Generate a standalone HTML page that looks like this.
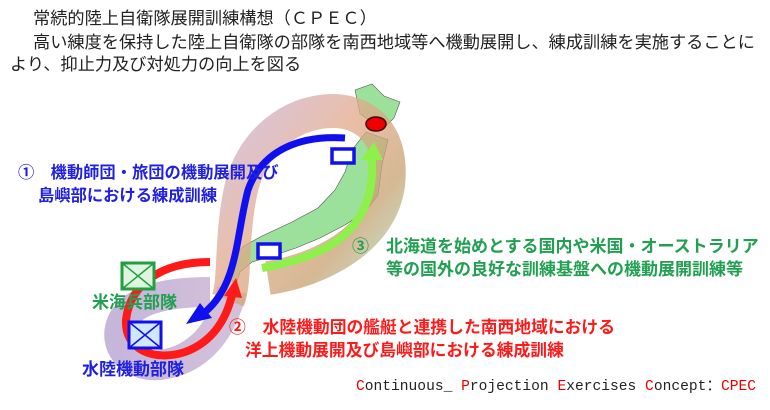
<!DOCTYPE html><html><head><meta charset="utf-8"><style>
body{margin:0;background:#fff;width:770px;height:410px;overflow:hidden}
svg{display:block}
.j{font-family:"Liberation Sans","Noto Sans CJK JP",sans-serif}
</style></head><body>
<svg width="770" height="410" viewBox="0 0 770 410" xmlns="http://www.w3.org/2000/svg">
<defs>
<linearGradient id="band" x1="0" y1="0" x2="1" y2="1">
<stop offset="0" stop-color="#c9b0d8"/><stop offset="0.4" stop-color="#e2a98a"/><stop offset="0.7" stop-color="#c8a070"/><stop offset="1" stop-color="#a8e0c0"/></linearGradient>
<linearGradient id="band2" x1="0" y1="0" x2="1" y2="0">
<stop offset="0" stop-color="#b8a4d0"/><stop offset="1" stop-color="#c8b0d0"/></linearGradient>
</defs>
<g class="j" font-size="17.2" fill="#222">
<text x="33" y="24">常続的陸上自衛隊展開訓練構想（ＣＰＥＣ）</text>
<text x="33" y="48">高い練度を保持した陸上自衛隊の部隊を南西地域等へ機動展開し、練成訓練を実施することに</text>
<text x="10" y="70">より、抑止力及び対処力の向上を図る</text>
</g>
<!-- Japan -->
<path d="M355 90 L372 84 L384 96 L400 102 L394 118 L382 130 L372 122 L360 114 Z" fill="#9be09b" stroke="#555" stroke-width="0.6"/>
<path d="M366 132 L388 140 L382 165 L378 195 L365 212 L345 225 L320 238 L296 248 L272 256 L252 262 L240 272 L236 285 L228 276 L232 258 L244 246 L262 236 L292 222 L318 208 L335 190 L345 172 L352 150 Z" fill="#9be09b" stroke="#555" stroke-width="0.6"/>
<!-- band lower-left -->
<path d="M232 290 C222 330 200 360 160 365 C130 368 112 345 122 322 C132 300 165 292 210 292" fill="none" stroke="url(#band2)" stroke-width="30" stroke-opacity="0.8"/>
<!-- band main -->
<path d="M268 278 C320 270 380 240 388 185 C394 130 362 110 330 111 C290 113 255 140 242 185 C230 235 236 280 228 300" fill="none" stroke="url(#band)" stroke-width="34" stroke-opacity="0.75" stroke-linecap="butt"/>
<!-- green arrow -->
<path d="M262 268 C320 258 368 236 372 175 L372 158" fill="none" stroke="#8ef04a" stroke-width="8"/>
<polygon points="361,160 383,160 374,142" fill="#8ef04a"/>
<!-- blue arrow -->
<path d="M345 138 C300 135 262 150 248 190 C236 235 238 285 205 312" fill="none" stroke="#1010ee" stroke-width="7"/>
<polygon points="186,324 200,303 212,318" fill="#1010ee"/>
<!-- red arrow -->
<path d="M210 262 C160 262 130 285 126 320 C124 350 155 362 185 352 C212 342 226 320 232 295" fill="none" stroke="#ff1a1a" stroke-width="8"/>
<polygon points="224,296 242,298 236,278" fill="#ff1a1a"/>
<!-- boxes -->
<rect x="332" y="149" width="22" height="14" fill="#fff" stroke="#1010ee" stroke-width="3.5"/>
<rect x="258" y="244" width="22" height="14" fill="#fff" stroke="#1010ee" stroke-width="3.5"/>
<ellipse cx="376" cy="124" rx="10" ry="7" fill="#e00" stroke="#400" stroke-width="1.5"/>
<!-- unit icons -->
<rect x="122" y="263" width="32" height="26" fill="#dff5df" stroke="#20a040" stroke-width="3"/>
<path d="M122 263 L154 289 M154 263 L122 289" stroke="#20a040" stroke-width="1.5"/>
<rect x="129" y="322" width="32" height="26" fill="#cfe8ff" stroke="#1010ee" stroke-width="3"/>
<path d="M129 322 L161 348 M161 322 L129 348" stroke="#1010ee" stroke-width="1.5"/>
<g class="j" font-size="16.3" font-weight="bold">
<text x="18" y="178" fill="#2020e0">①　機動師団・旅団の機動展開及び</text>
<text x="38" y="201" fill="#2020e0">島嶼部における練成訓練</text>
<text x="352" y="252" fill="#20a050" font-size="17">③　北海道を始めとする国内や米国・オーストラリア</text>
<text x="386" y="275" fill="#20a050" font-size="17">等の国外の良好な訓練基盤への機動展開訓練等</text>
<text x="229" y="333" fill="#ff1a1a" font-size="16.8">②　水陸機動団の艦艇と連携した南西地域における</text>
<text x="245" y="356" fill="#ff1a1a" font-size="16.8">洋上機動展開及び島嶼部における練成訓練</text>
<text x="92" y="308" fill="#20a050" font-size="17">米海兵部隊</text>
<text x="82" y="375" fill="#2020e0" font-size="17">水陸機動部隊</text>
</g>
<text x="356" y="390" font-family="Liberation Mono,monospace" font-size="14.6" fill="#222"><tspan fill="#e00">C</tspan>ontinuous_ <tspan fill="#e00">P</tspan>rojection <tspan fill="#e00">E</tspan>xercises <tspan fill="#e00">C</tspan>oncept：<tspan fill="#e00">CPEC</tspan></text>
</svg>
</body></html>
